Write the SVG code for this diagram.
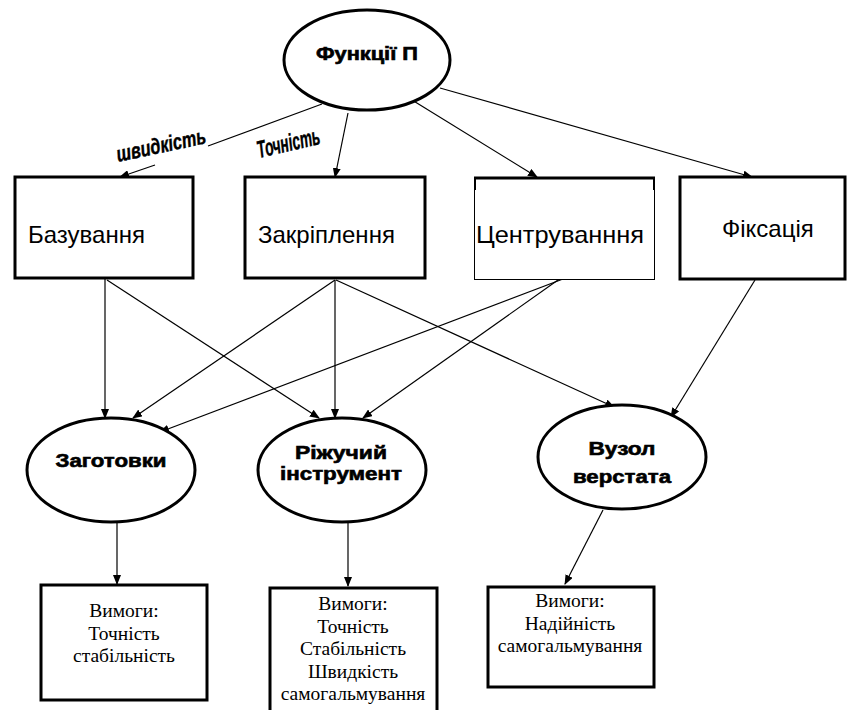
<svg xmlns="http://www.w3.org/2000/svg" width="849" height="710" viewBox="0 0 849 710">
<defs>
<marker id="ah" markerWidth="10" markerHeight="8" refX="9" refY="4" orient="auto" markerUnits="userSpaceOnUse">
<path d="M0,0 L10,4 L0,8 Z" fill="#000"/>
</marker>
<style>
.box{fill:#fff;stroke:#000;stroke-width:3}
.thin{fill:#fff;stroke:#000;stroke-width:1}
.ell{fill:#fff;stroke:#000;stroke-width:3}
.lbl{font-family:"Liberation Sans",Arial,sans-serif;font-size:24px;fill:#000}
.bold{font-family:"Liberation Sans",Arial,sans-serif;font-size:18px;font-weight:bold;fill:#000;stroke:#000;stroke-width:0.6;text-anchor:middle}
.req{font-family:"Liberation Serif","Times New Roman",serif;font-size:19.5px;fill:#000;text-anchor:middle}
.ital{font-family:"Liberation Sans",Arial,sans-serif;font-weight:bold;font-style:italic;fill:#000;stroke:#000;stroke-width:0.4}
.con line{stroke:#000;stroke-width:1.2;fill:none}
</style>
</defs>
<rect width="849" height="710" fill="#fff"/>

<g id="connectors" class="con">
<line x1="322" y1="104" x2="208" y2="146"/>
<line x1="155" y1="165" x2="120" y2="177" marker-end="url(#ah)"/>
<line x1="348" y1="113" x2="335" y2="177" marker-end="url(#ah)"/>
<line x1="412" y1="100" x2="537" y2="177" marker-end="url(#ah)"/>
<line x1="440" y1="88" x2="752" y2="177" marker-end="url(#ah)"/>
<line x1="105" y1="279" x2="105" y2="418" marker-end="url(#ah)"/>
<line x1="107" y1="280" x2="319" y2="418" marker-end="url(#ah)"/>
<line x1="335" y1="280" x2="133" y2="418" marker-end="url(#ah)"/>
<line x1="335" y1="280" x2="335" y2="418" marker-end="url(#ah)"/>
<line x1="336" y1="280" x2="614" y2="407" marker-end="url(#ah)"/>
<line x1="563" y1="279" x2="160" y2="432" marker-end="url(#ah)"/>
<line x1="558" y1="280" x2="363" y2="418" marker-end="url(#ah)"/>
<line x1="755" y1="280" x2="671" y2="417" marker-end="url(#ah)"/>
<line x1="117" y1="523" x2="117" y2="584" marker-end="url(#ah)"/>
<line x1="348" y1="523" x2="348" y2="586" marker-end="url(#ah)"/>
<line x1="603" y1="510" x2="565" y2="584" marker-end="url(#ah)"/>
</g>

<g id="edge-labels">
<text class="ital" font-size="22" transform="translate(118,162) rotate(-12)" textLength="91" lengthAdjust="spacingAndGlyphs">швидкість</text>
<text class="ital" font-size="24" transform="translate(259,158) rotate(-13)" textLength="64" lengthAdjust="spacingAndGlyphs">Точність</text>
</g>

<g id="functions">
<ellipse class="ell" cx="367" cy="60" rx="83" ry="50"/>
<text class="bold" x="367" y="60" textLength="102" lengthAdjust="spacingAndGlyphs">Функції П</text>
</g>

<g id="bazuvannia">
<rect class="box" x="15" y="177" width="178" height="101"/>
<text class="lbl" x="28" y="243" font-size="25">Базування</text>
</g>

<g id="zakriplennia">
<rect class="box" x="245" y="177" width="180" height="101"/>
<text class="lbl" x="258" y="243">Закріплення</text>
</g>

<g id="tsentruvannia">
<rect class="thin" x="474.5" y="177.5" width="180" height="102"/>
<line x1="474" y1="178" x2="655" y2="178" stroke="#000" stroke-width="3"/>
<line x1="475" y1="177" x2="475" y2="190" stroke="#000" stroke-width="2"/>
<line x1="654" y1="177" x2="654" y2="190" stroke="#000" stroke-width="2"/>
<text class="lbl" x="476" y="243" textLength="168" lengthAdjust="spacingAndGlyphs">Центруванння</text>
</g>

<g id="fiksatsiia">
<rect class="box" x="680" y="177" width="165" height="102"/>
<text class="lbl" x="722" y="237">Фіксація</text>
</g>

<g id="zagotovky">
<ellipse class="ell" cx="111" cy="470" rx="84" ry="52"/>
<text class="bold" x="111" y="467" textLength="111" lengthAdjust="spacingAndGlyphs">Заготовки</text>
</g>

<g id="rizhuchyi">
<ellipse class="ell" cx="342" cy="470" rx="84" ry="52"/>
<text class="bold" x="341" y="459" textLength="92" lengthAdjust="spacingAndGlyphs">Ріжучий</text>
<text class="bold" x="341" y="480" textLength="122" lengthAdjust="spacingAndGlyphs">інструмент</text>
</g>

<g id="vuzol">
<ellipse class="ell" cx="622" cy="457" rx="84" ry="52"/>
<text class="bold" x="622" y="455" textLength="67" lengthAdjust="spacingAndGlyphs">Вузол</text>
<text class="bold" x="622" y="483" textLength="98" lengthAdjust="spacingAndGlyphs">верстата</text>
</g>

<g id="req1">
<rect class="box" x="41" y="585" width="166" height="115"/>
<text class="req" x="124" y="617">Вимоги:</text>
<text class="req" x="124" y="640">Точність</text>
<text class="req" x="124" y="662">стабільність</text>
</g>

<g id="req2">
<rect class="box" x="270" y="588" width="167" height="130"/>
<text class="req" x="353" y="610">Вимоги:</text>
<text class="req" x="353" y="633">Точність</text>
<text class="req" x="353" y="655">Стабільність</text>
<text class="req" x="353" y="678">Швидкість</text>
<text class="req" x="353" y="700">самогальмування</text>
</g>

<g id="req3">
<rect class="box" x="488" y="587" width="166" height="100"/>
<text class="req" x="570" y="607">Вимоги:</text>
<text class="req" x="570" y="630">Надійність</text>
<text class="req" x="570" y="652">самогальмування</text>
</g>
</svg>
